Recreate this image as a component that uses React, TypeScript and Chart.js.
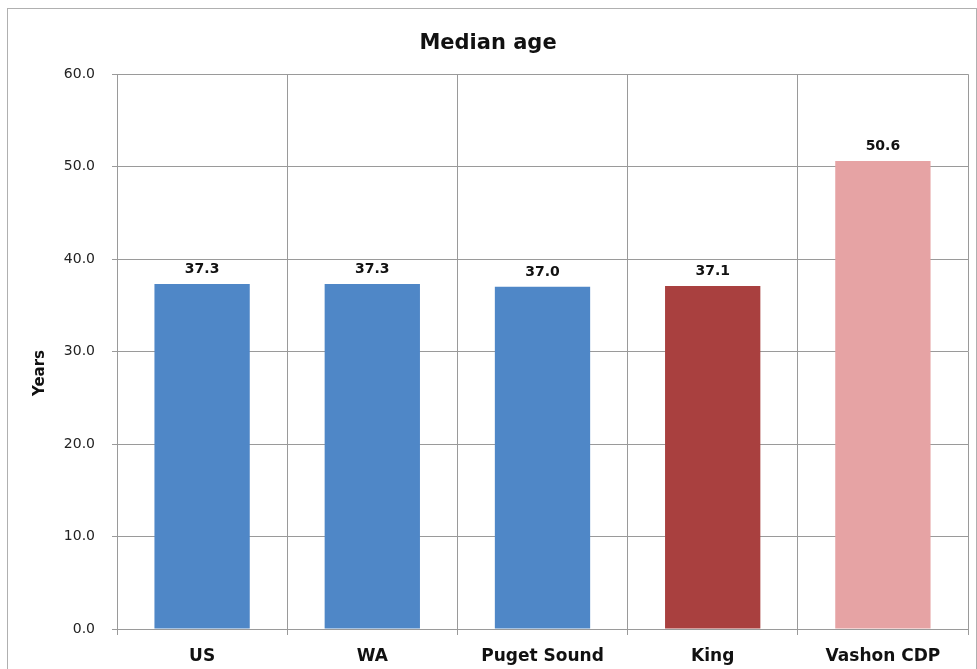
import React, { useEffect, useRef } from "react";
import { Chart, registerables } from "chart.js";

Chart.register(...registerables);

const categories = ["US", "WA", "Puget Sound", "King", "Vashon CDP"];
const medianAge = [37.3, 37.3, 37.0, 37.1, 50.6];
const barColors = ["#4f87c7", "#4f87c7", "#4f87c7", "#a9403f", "#e6a3a4"];
const yTicks = [0, 10, 20, 30, 40, 50, 60];

const FONT = "'DejaVu Sans', 'Open Sans', sans-serif";

const valueLabels = {
  id: "valueLabels",
  afterDatasetsDraw(chart: any) {
    const ctx = chart.ctx;
    const meta = chart.getDatasetMeta(0);
    ctx.save();
    ctx.font = `bold 14px ${FONT}`;
    ctx.fillStyle = "#111";
    ctx.textAlign = "center";
    ctx.textBaseline = "bottom";
    meta.data.forEach((bar: any, i: number) => {
      const v = chart.data.datasets[0].data[i];
      ctx.fillText(v.toFixed(1), bar.x, bar.y - 8);
    });
    // y-axis title
    ctx.translate(32, 364);
    ctx.rotate(-Math.PI / 2);
    ctx.font = `bold 15px ${FONT}`;
    ctx.textBaseline = "middle";
    ctx.fillText("Years", 0, 0);
    ctx.restore();
  },
};

export default function App() {
  const ref = useRef<HTMLCanvasElement>(null);
  useEffect(() => {
    if (!ref.current) return;
    const chart = new Chart(ref.current, {
      type: "bar",
      data: {
        labels: categories,
        datasets: [
          {
            data: medianAge,
            backgroundColor: barColors,
            barPercentage: 0.56,
            categoryPercentage: 1,
          },
        ],
      },
      options: {
        animation: false,
        responsive: false,
        maintainAspectRatio: false,
        layout: { padding: { top: 14, right: 8, left: 0, bottom: 0 } },
        plugins: {
          legend: { display: false },
          tooltip: { enabled: false },
          title: {
            display: true,
            text: "Median age",
            color: "#111",
            font: { family: FONT, size: 21, weight: "bold" },
            padding: { top: 8, bottom: 18 },
          },
        },
        scales: {
          x: {
            grid: { color: "#9a9a9a", offset: true, tickLength: 6, lineWidth: 1 },
            border: { color: "#9a9a9a" },
            ticks: {
              color: "#111",
              font: { family: FONT, size: 17, weight: "bold" },
              padding: 11,
              maxRotation: 0,
            },
            afterFit: (s: any) => {
              s.height = 40;
            },
          },
          y: {
            min: 0,
            max: 60,
            afterBuildTicks: (s: any) => {
              s.ticks = yTicks.map((v) => ({ value: v }));
            },
            grid: { color: "#9a9a9a", tickLength: 5 },
            border: { color: "#9a9a9a" },
            ticks: {
              color: "#222",
              font: { family: FONT, size: 14 },
              padding: 17,
              callback: (v: any) => Number(v).toFixed(1),
            },
            afterFit: (s: any) => {
              s.width = 109;
            },
          },
        },
      },
      plugins: [valueLabels],
    });
    return () => chart.destroy();
  }, []);

  return (
    <div
      style={{
        position: "absolute",
        left: 7,
        top: 8,
        width: 968,
        height: 660,
        border: "1px solid #b0b0b0",
        background: "#fff",
      }}
    >
      <canvas ref={ref} width={968} height={660} style={{ display: "block" }} />
    </div>
  );
}
